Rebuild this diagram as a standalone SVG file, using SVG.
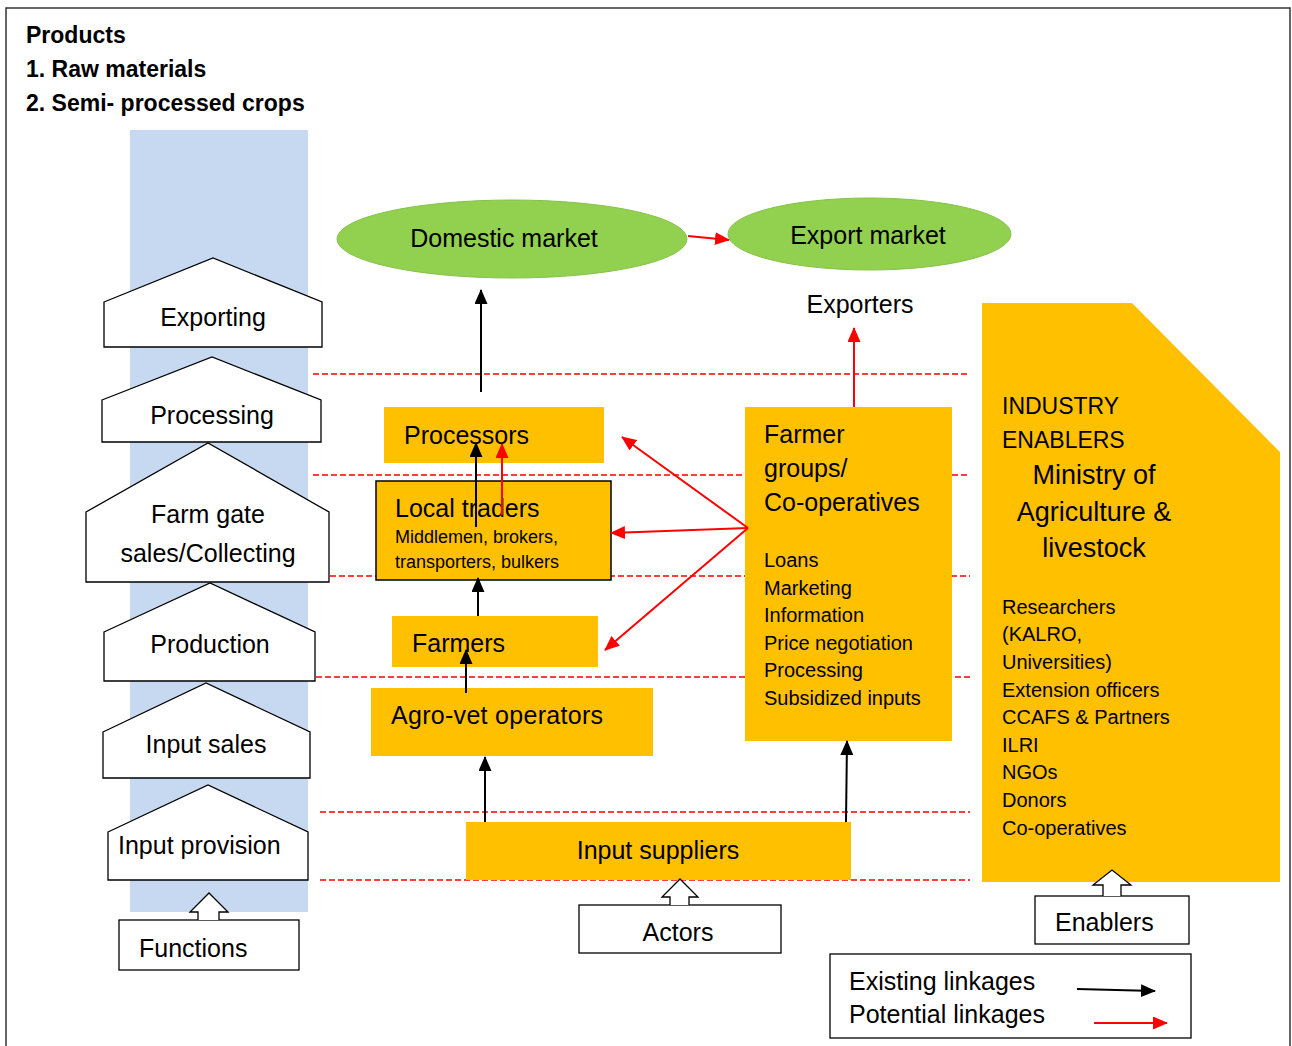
<svg xmlns="http://www.w3.org/2000/svg" width="1292" height="1046" viewBox="0 0 1292 1046">
<defs>
<style>
text{font-family:"Liberation Sans",Arial,sans-serif;fill:#000}
.t{font-size:25px}
.s{font-size:20px}
.h{font-size:23px;font-weight:bold}
.house{fill:#fff;stroke:#000;stroke-width:1.3}
.box{fill:#ffc000}
.dash{stroke:#ff0000;stroke-width:1.3;stroke-dasharray:6 3;fill:none}
.blk{stroke:#000;stroke-width:2;fill:none;marker-end:url(#ab)}
.red{stroke:#ff0000;stroke-width:2;fill:none;marker-end:url(#ar)}
.ell{fill:#92d050;stroke:#86c247;stroke-width:1}
.wb{fill:#fff;stroke:#000;stroke-width:1.3}
</style>
<marker id="ab" markerUnits="userSpaceOnUse" markerWidth="16" markerHeight="14" refX="14" refY="6.5" orient="auto"><path d="M0,0 L15,6.5 L0,13 Z" fill="#000"/></marker>
<marker id="ar" markerUnits="userSpaceOnUse" markerWidth="16" markerHeight="14" refX="14" refY="6.5" orient="auto"><path d="M0,0 L15,6.5 L0,13 Z" fill="#ff0000"/></marker>
</defs>
<rect x="0" y="0" width="1292" height="1046" fill="#fff"/>
<rect x="6" y="8" width="1284" height="1060" fill="none" stroke="#333" stroke-width="1.5"/>

<g id="products">
<text class="h" x="26" y="43">Products</text>
<text class="h" x="26" y="77">1. Raw materials</text>
<text class="h" x="26" y="111">2. Semi- processed crops</text>
</g>

<rect id="function-column" x="130" y="130" width="178" height="782" fill="#c6d9f0"/>

<g id="dashed-lines">
<line class="dash" x1="313" y1="374" x2="970" y2="374"/>
<line class="dash" x1="313" y1="475" x2="970" y2="475"/>
<line class="dash" x1="330" y1="576" x2="970" y2="576"/>
<line class="dash" x1="316" y1="677" x2="970" y2="677"/>
<line class="dash" x1="320" y1="812" x2="970" y2="812"/>
<line class="dash" x1="320" y1="880" x2="970" y2="880"/>
</g>

<g id="f-exporting"><path class="house" d="M104,302 L213,258 L322,302 L322,347 L104,347 Z"/><text class="t" x="213" y="326" text-anchor="middle">Exporting</text></g>
<g id="f-processing"><path class="house" d="M102,400 L212,357 L321,400 L321,442 L102,442 Z"/><text class="t" x="212" y="424" text-anchor="middle">Processing</text></g>
<g id="f-farmgate"><path class="house" d="M86,512 L208,443 L329,512 L329,582 L86,582 Z"/><text class="t" x="208" y="523" text-anchor="middle">Farm gate</text><text class="t" x="208" y="562" text-anchor="middle">sales/Collecting</text></g>
<g id="f-production"><path class="house" d="M104,632 L210,583 L315,632 L315,681 L104,681 Z"/><text class="t" x="210" y="653" text-anchor="middle">Production</text></g>
<g id="f-inputsales"><path class="house" d="M103,732 L206,683 L310,732 L310,778 L103,778 Z"/><text class="t" x="206" y="753" text-anchor="middle">Input sales</text></g>
<g id="f-inputprovision"><path class="house" d="M108,832 L208,785 L308,832 L308,880 L108,880 Z"/><text class="t" x="118" y="854">Input provision</text></g>

<g id="functions"><rect class="wb" x="119" y="920" width="180" height="50"/><path class="wb" d="M198,920 L198,912 L190,912 L209,893 L228,912 L219,912 L219,920"/><text class="t" x="139" y="957">Functions</text></g>

<g id="domestic-market"><ellipse class="ell" cx="512" cy="239" rx="175" ry="39"/><text class="t" x="504" y="247" text-anchor="middle">Domestic market</text></g>
<g id="export-market"><ellipse class="ell" cx="869.5" cy="234" rx="141.5" ry="36"/><text class="t" x="868" y="244" text-anchor="middle">Export market</text></g>
<g id="exporters"><text class="t" x="860" y="313" text-anchor="middle">Exporters</text></g>

<g id="processors"><rect class="box" x="384" y="407" width="220" height="56"/><text class="t" x="404" y="444">Processors</text></g>
<g id="local-traders"><rect class="box" x="376" y="481" width="235" height="99" stroke="#000" stroke-width="1.5"/><text class="t" x="395" y="517">Local traders</text><text x="395" y="543" font-size="18">Middlemen, brokers,</text><text x="395" y="568" font-size="18">transporters, bulkers</text></g>
<g id="farmers"><rect class="box" x="392" y="616" width="206" height="51"/><text class="t" x="412" y="652">Farmers</text></g>
<g id="agrovet"><rect class="box" x="371" y="688" width="282" height="68"/><text class="t" x="391" y="724" textLength="212">Agro-vet operators</text></g>
<g id="input-suppliers"><rect class="box" x="466" y="822" width="385" height="58"/><text class="t" x="658" y="859" text-anchor="middle">Input suppliers</text></g>
<g id="farmer-groups"><rect class="box" x="745" y="407" width="207" height="334"/>
<text class="t" x="764" y="443">Farmer</text><text class="t" x="764" y="477">groups/</text><text class="t" x="764" y="511">Co-operatives</text>
<text class="s" x="764" y="567">Loans</text><text class="s" x="764" y="595">Marketing</text><text class="s" x="764" y="622">Information</text><text class="s" x="764" y="650">Price negotiation</text><text class="s" x="764" y="677">Processing</text><text class="s" x="764" y="705">Subsidized inputs</text></g>

<g id="actors"><rect class="wb" x="579" y="905" width="202" height="48"/><path class="wb" d="M670,905 L670,897 L662,897 L680,879 L698,897 L689,897 L689,905"/><text class="t" x="678" y="941" text-anchor="middle">Actors</text></g>

<g id="industry-enablers"><path class="box" d="M982,303 L1132,303 L1280,452 L1280,882 L982,882 Z"/>
<text x="1002" y="414" font-size="23">INDUSTRY</text><text x="1002" y="448" font-size="23">ENABLERS</text>
<text x="1094" y="484" font-size="27" text-anchor="middle">Ministry of</text><text x="1094" y="521" font-size="27" text-anchor="middle">Agriculture &amp;</text><text x="1094" y="557" font-size="27" text-anchor="middle">livestock</text>
<text class="s" x="1002" y="614">Researchers</text><text class="s" x="1002" y="641">(KALRO,</text><text class="s" x="1002" y="669">Universities)</text><text class="s" x="1002" y="697">Extension officers</text><text class="s" x="1002" y="724">CCAFS &amp; Partners</text><text class="s" x="1002" y="752">ILRI</text><text class="s" x="1002" y="779">NGOs</text><text class="s" x="1002" y="807">Donors</text><text class="s" x="1002" y="835">Co-operatives</text></g>

<g id="enablers"><rect class="wb" x="1035" y="896" width="154" height="48"/><path class="wb" d="M1103,896 L1103,885 L1093,885 L1112,870 L1131,885 L1121,885 L1121,896"/><text class="t" x="1055" y="931">Enablers</text></g>

<g id="legend"><rect class="wb" x="830" y="954" width="361" height="84"/><text class="t" x="849" y="990">Existing linkages</text><text class="t" x="849" y="1023">Potential linkages</text>
<line class="blk" x1="1077" y1="989" x2="1155" y2="991"/><line class="red" x1="1094" y1="1023" x2="1167" y2="1023"/></g>

<g id="connectors">
<line class="blk" x1="481" y1="392" x2="481" y2="290"/>
<line class="red" x1="688" y1="236" x2="729" y2="240"/>
<line class="red" x1="854" y1="407" x2="854" y2="328"/>
<line class="blk" x1="476" y1="527" x2="476" y2="443"/>
<line class="red" x1="502" y1="515" x2="502" y2="444"/>
<line class="blk" x1="478" y1="616" x2="478" y2="578"/>
<line class="blk" x1="466" y1="693" x2="466" y2="650"/>
<line class="blk" x1="485" y1="822" x2="485" y2="757"/>
<line class="blk" x1="846" y1="822" x2="847" y2="741"/>
<line class="red" x1="748" y1="528" x2="622" y2="437"/>
<line class="red" x1="748" y1="528" x2="611" y2="533"/>
<line class="red" x1="748" y1="528" x2="605" y2="650"/>
</g>
</svg>
